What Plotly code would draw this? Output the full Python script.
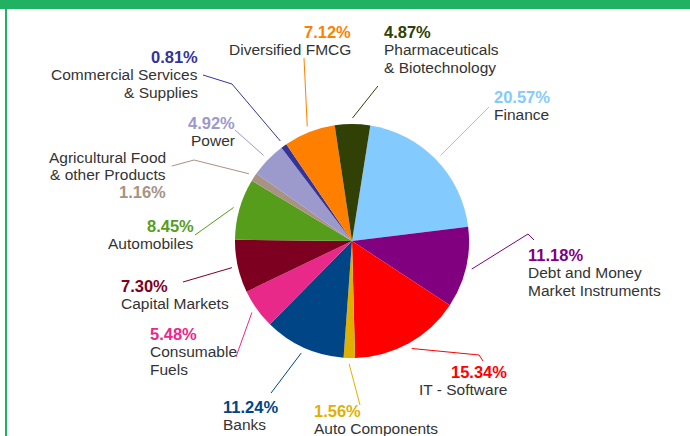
"""Sector allocation pie with outside labels and leader lines."""

import math

import plotly.graph_objects as go

W, H = 690, 436

SECTORS = [
    "Finance",
    "Debt and Money<br>Market Instruments",
    "IT - Software",
    "Auto Components",
    "Banks",
    "Consumable<br>Fuels",
    "Capital Markets",
    "Automobiles",
    "Agricultural Food<br>& other Products",
    "Power",
    "Commercial Services<br>& Supplies",
    "Diversified FMCG",
    "Pharmaceuticals<br>& Biotechnology",
]
WEIGHTS = [20.57, 11.18, 15.34, 1.56, 11.24, 5.48, 7.30, 8.45, 1.16, 4.92, 0.81, 7.12, 4.87]
COLORS = [
    "#83caff", "#800080", "#ff0000", "#e0b000", "#004586", "#e8298a", "#7e0021",
    "#579d1c", "#a89283", "#9c99cc", "#333399", "#ff8000", "#314004",
]

# pie geometry in pixels
CX, CY, R = 352, 241, 117
ROTATION = 9
LINE_STEP = 17.7

# label layout: (x px, first line y px, side, percent_below, leader points in px)
LABEL_LAYOUT = [
    (493, 97, "left", False, [(489, 107)]),
    (527, 255, "left", False, [(528, 234), (534, 240)]),
    (508, 372, "right", False, [(479, 355), (483, 361)]),
    (313, 411, "left", False, [(360, 405)]),
    (222, 407, "left", False, [(271, 393)]),
    (149, 334, "left", False, [(236, 357)]),
    (120, 286, "left", False, [(183, 282)]),
    (195, 226, "right", False, [(195, 235)]),
    (167, 157, "right", True, [(194, 160), (172, 166)]),
    (236, 123, "right", False, [(235, 130)]),
    (199, 57, "right", False, [(232, 84), (203, 75)]),
    (352, 32, "right", False, [(304, 58)]),
    (383, 32, "left", False, [(378, 86)]),
]


def px(x, y):
    return x / W, 1 - y / H


fig = go.Figure(
    go.Pie(
        labels=[s.replace("<br>", " ") for s in SECTORS],
        values=WEIGHTS,
        marker=dict(colors=COLORS, line=dict(width=0)),
        sort=False,
        direction="clockwise",
        rotation=ROTATION,
        textinfo="none",
        showlegend=False,
        domain=dict(
            x=[(CX - R) / W, (CX + R) / W],
            y=[1 - (CY + R) / H, 1 - (CY - R) / H],
        ),
    )
)

shapes = [
    # green frame: header strip and left rule
    dict(type="rect", xref="paper", yref="paper", x0=0, x1=1, y0=1 - 9 / H, y1=1,
         fillcolor="#20b262", line_width=0),
    dict(type="rect", xref="paper", yref="paper", x0=5 / W, x1=7 / W, y0=0, y1=1,
         fillcolor="#20b262", line_width=0),
]
annotations = []

total = sum(WEIGHTS)
cum = 0.0
for name, val, color, (lx, ly, side, pct_below, pts) in zip(SECTORS, WEIGHTS, COLORS, LABEL_LAYOUT):
    mid = ROTATION + (cum + val / 2) / total * 360
    cum += val
    a = math.radians(mid)
    sx = CX + (R + 6) * math.sin(a)
    sy = CY - (R + 6) * math.cos(a)
    path = "M {:.4f},{:.4f}".format(*px(sx, sy))
    for x, y in pts:
        path += " L {:.4f},{:.4f}".format(*px(x, y))
    shapes.append(dict(type="path", xref="paper", yref="paper", path=path,
                       line=dict(color=color, width=1)))

    pct_line = (f"<b>{val:.2f}%</b>", dict(size=16.5, color=color))
    name_lines = [(t, dict(size=15.5, color="#333333")) for t in name.split("<br>")]
    lines = name_lines + [pct_line] if pct_below else [pct_line] + name_lines
    for i, (text, font) in enumerate(lines):
        ax, ay = px(lx, ly + i * LINE_STEP)
        annotations.append(dict(
            x=ax, y=ay, xref="paper", yref="paper", text=text, showarrow=False,
            xanchor=side, yanchor="middle", align=side, borderpad=0, font=font,
        ))

fig.update_layout(
    width=W,
    height=H,
    margin=dict(l=0, r=0, t=0, b=0),
    paper_bgcolor="white",
    plot_bgcolor="white",
    font=dict(family="Liberation Sans, Arial, sans-serif"),
    shapes=shapes,
    annotations=annotations,
)

fig.write_html(
    "out.html",
    config={"displayModeBar": False},
    post_script="document.body.style.margin='0';",
)
